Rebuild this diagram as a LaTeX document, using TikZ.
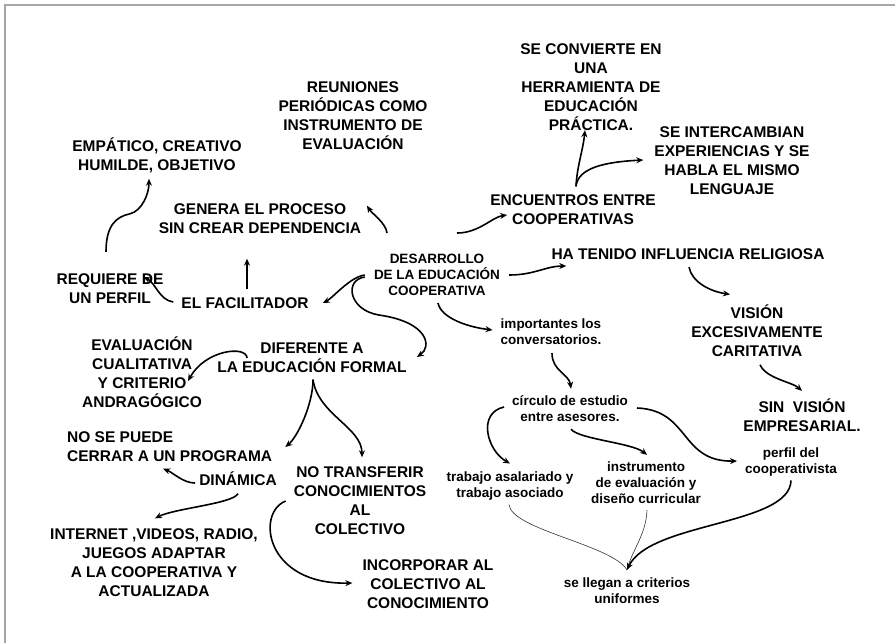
\documentclass[tikz,border=0pt]{standalone}
\usepackage{fontspec}
\setmainfont{Liberation Sans}
\usetikzlibrary{arrows.meta}
\begin{document}
\begin{tikzpicture}[x=1pt,y=-1pt,
    bigtxt/.style={font=\bfseries\fontsize{15.5}{19}\selectfont, align=center, inner sep=0pt},
    smalltxt/.style={font=\bfseries\fontsize{13.5}{16}\selectfont, align=center, inner sep=0pt},
    arr/.style={-{Stealth[length=7pt,width=6pt]}, line width=1.6pt},
    joinline/.style={line width=0.6pt, black!80}]
    \useasboundingbox (0,0) rectangle (895,643);
    \draw[black!35, line width=1.5pt] (895,5) -- (5,5) -- (5,643); % frame

    % Nodes
    \node[smalltxt] (desa) at (437,275) {DESARROLLO\\DE LA EDUCACIÓN\\COOPERATIVA};
    \node[bigtxt] (reun) at (353,116) {REUNIONES\\PERIÓDICAS COMO\\INSTRUMENTO DE\\EVALUACIÓN};
    \node[bigtxt] (empa) at (157,155) {EMPÁTICO, CREATIVO\\HUMILDE, OBJETIVO};
    \node[bigtxt] (gene) at (260,219) {GENERA EL PROCESO\\SIN CREAR DEPENDENCIA};
    \node[bigtxt] (requ) at (110,289) {REQUIERE DE\\UN PERFIL};
    \node[bigtxt] (faci) at (245,303) {EL FACILITADOR};
    \node[bigtxt] (conv) at (591,87) {SE CONVIERTE EN\\UNA\\HERRAMIENTA DE\\EDUCACIÓN\\PRÁCTICA.};
    \node[bigtxt] (inte) at (732,161) {SE INTERCAMBIAN\\EXPERIENCIAS Y SE\\HABLA EL MISMO\\LENGUAJE};
    \node[bigtxt] (encu) at (573,210) {ENCUENTROS ENTRE\\COOPERATIVAS};
    \node[bigtxt] (reli) at (688,254) {HA TENIDO INFLUENCIA RELIGIOSA};
    \node[bigtxt] (visi) at (757,331) {VISIÓN\\EXCESIVAMENTE\\CARITATIVA};
    \node[bigtxt] (empr) at (802,415) {SIN\ \ VISIÓN\\EMPRESARIAL.};
    \node[smalltxt] (perf) at (791,462) {perfil del\\cooperativista};
    \node[smalltxt] (impo) at (551,332) {importantes los\\conversatorios.};
    \node[smalltxt] (circ) at (570,409) {círculo de estudio\\entre asesores.};
    \node[smalltxt] (trab) at (510,486) {trabajo asalariado y\\trabajo asociado};
    \node[smalltxt] (inst) at (646,483) {instrumento\\de evaluación y\\diseño curricular};
    \node[smalltxt] (lleg) at (627,591) {se llegan a criterios\\uniformes};
    \node[bigtxt] (eval) at (142,372) {EVALUACIÓN\\CUALITATIVA\\Y CRITERIO\\ANDRAGÓGICO};
    \node[bigtxt] (dife) at (312,358) {DIFERENTE A\\LA EDUCACIÓN FORMAL};
    \node[bigtxt, align=left, anchor=west] (nose) at (67,447) {NO SE PUEDE\\CERRAR A UN PROGRAMA};
    \node[bigtxt] (dina) at (238,479) {DINÁMICA};
    \node[bigtxt] (notr) at (360,501) {NO TRANSFERIR\\CONOCIMIENTOS\\AL\\COLECTIVO};
    \node[bigtxt] (inet) at (154,563) {INTERNET ,VIDEOS, RADIO,\\JUEGOS ADAPTAR\\A LA COOPERATIVA Y\\ACTUALIZADA};
    \node[bigtxt] (inco) at (428,584) {INCORPORAR AL\\COLECTIVO AL\\CONOCIMIENTO};

    % Connectors from the centre
    \draw[arr] ([shift={(-9,0)}]desa.west) .. controls +(-15,2) and +(10,-5) .. ([shift={(14,0)}]faci.east); % to facilitador
    \draw[arr] ([shift={(-9,2)}]desa.west) .. controls +(-21,3) and +(-30,-5) .. ++(14,38) .. controls +(50,7) and +(15,-10) .. ([shift={(10,-1)}]dife.east); % to diferente
    \draw[arr] ([shift={(1,7)}]desa.south) .. controls +(3,15) and +(-25,-3) .. ([shift={(-8,-2)}]impo.west); % to importantes
    \draw[arr] ([shift={(20,-21)}]desa.north) .. controls +(22,0) and +(-15,2) .. ([shift={(17,5)}]encu.west); % to encuentros
    \draw[arr] ([shift={(9,0)}]desa.east) .. controls +(25,0) and +(-20,0) .. ([shift={(15,12)}]reli.west); % to religiosa
    \draw[arr] ([shift={(-50,-21)}]desa.north) .. controls +(-1,-10) and +(5,8) .. ([shift={(14,55.5)}]reun.south); % to reuniones

    % Left branch
    \draw[arr] ([shift={(2,-8.5)}]faci.north) -- ([shift={(-13,24.5)}]gene.south); % to genera
    \draw[arr] ([shift={(-8,-1)}]faci.west) .. controls +(-14,-2) and +(12,6) .. ([shift={(-20,-12)}]requ.east); % to perfil
    \draw[arr] ([shift={(-4,-22)}]requ.north) .. controls +(0,-25) and +(-15,3) .. ++(24,-38) .. controls +(12,-3) and +(0,15) .. ([shift={(-8,6)}]empa.south); % to empatico
    \draw[arr] ([shift={(30,0)}]dife.west) .. controls +(-1,-13) and +(17,-31) .. ([shift={(-14,9)}]eval.east); % to evaluacion
    \draw[arr] ([shift={(1,6.5)}]dife.south) .. controls +(0,25) and +(12,-10) .. ([shift={(13,0)}]nose.east); % to no se puede
    \draw[arr] ([shift={(1,6.5)}]dife.south) .. controls +(5,35) and +(0,-30) .. ([shift={(2,-9.5)}]notr.north); % to no transferir
    \draw[arr] ([shift={(-4,4)}]dina.west) .. controls +(-12,0) and +(10,4) .. ([shift={(-6.5,6.5)}]nose.south); % to no se puede
    \draw[arr] ([shift={(0,7.5)}]dina.south) .. controls +(-5,10) and +(20,-10) .. ([shift={(1,-10.5)}]inet.north); % to internet
    \draw[arr] ([shift={(-8,0)}]notr.west) .. controls +(-30,12) and +(-87,2) .. ([shift={(-10,-1)}]inco.west); % to incorporar

    % Right branch
    \draw[arr] ([shift={(3,-8.5)}]encu.north) .. controls +(1,-20) and +(-2,20) .. ([shift={(-6,-0.5)}]conv.south); % to herramienta
    \draw[arr] ([shift={(3,-8.5)}]encu.north) .. controls +(2,-18) and +(-40,2) .. ([shift={(-11,-1)}]inte.west); % to intercambian
    \draw[arr] ([shift={(1,7.5)}]reli.south) .. controls +(3,15) and +(-20,-3) .. ([shift={(-27,-10.5)}]visi.north); % to vision
    \draw[arr] ([shift={(3,7.5)}]visi.south) .. controls +(6,14) and +(-10,-9) .. ([shift={(0,-7.5)}]empr.north); % to empresarial
    \draw[arr] ([shift={(1,8)}]impo.south) .. controls +(0,18) and +(-2,-15) .. ([shift={(1,-7)}]circ.north); % to circulo
    \draw[arr] ([shift={(-8,-2)}]circ.west) .. controls +(-27,6) and +(-23,-13) .. ([shift={(0,-8)}]trab.north); % to trabajo
    \draw[arr] ([shift={(1,7)}]circ.south) .. controls +(8,10) and +(-15,-12) .. ([shift={(1,-7)}]inst.north); % to instrumento
    \draw[arr] ([shift={(9,-1)}]circ.east) .. controls +(53,2) and +(-57,1) .. ([shift={(-8,-1)}]perf.west); % to perfil del
    \draw[joinline] ([shift={(-1,4)}]trab.south) .. controls +(2,25) and +(-15,-25) .. ([shift={(0,-8)}]lleg.north); % thin join
    \draw[joinline] ([shift={(1,6)}]inst.south) .. controls +(-1,25) and +(5,-20) .. ([shift={(0,-8)}]lleg.north); % thin join
    \draw[arr] ([shift={(0,4)}]perf.south) .. controls +(-1,45) and +(23,-48) .. ([shift={(0,-8)}]lleg.north); % to criterios
\end{tikzpicture}
\end{document}
